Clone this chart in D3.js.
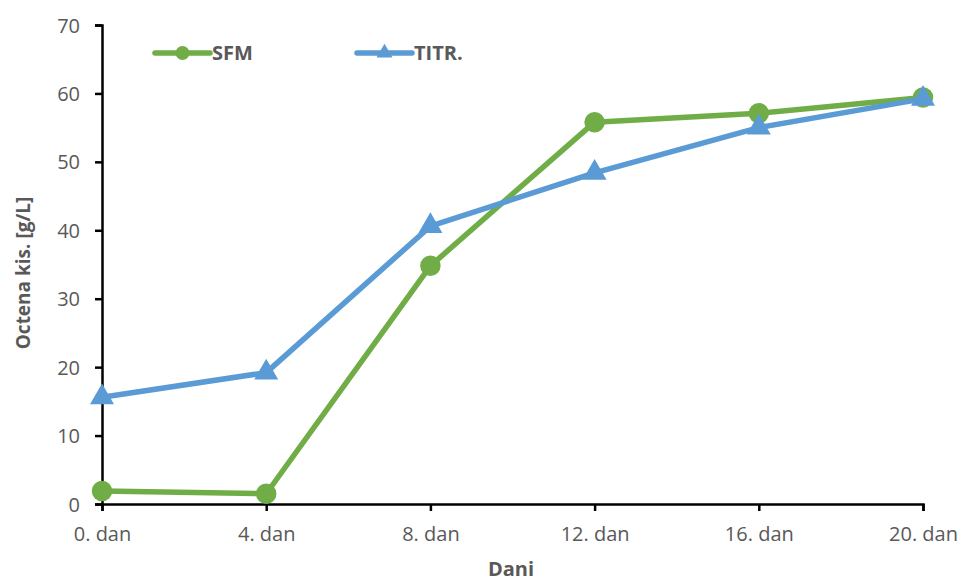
<!DOCTYPE html>
<html><head><meta charset="utf-8">
<script src="https://cdn.jsdelivr.net/npm/d3@7"></script>
<style>body{margin:0;background:#fff}svg{display:block}text{font-family:"Open Sans","Liberation Sans",sans-serif}</style>
</head><body><svg id="c" width="959" height="583"></svg>
<script>
const categories = ["0. dan","4. dan","8. dan","12. dan","16. dan","20. dan"];
const sfmValues = [1.9, 1.5, 34.8, 55.8, 57.1, 59.4];
const titrValues = [15.6, 19.2, 40.6, 48.4, 55.0, 59.2];
const seriesNames = ["SFM","TITR."];
const yTicks = [0,10,20,30,40,50,60,70];

const svg = d3.select("#c");
const m = {l:102, r:36, t:25, b:79};
const W = 959, H = 583;
const x = d3.scalePoint().domain(categories).range([m.l, W - m.r]);
const y = d3.scaleLinear().domain([0,70]).range([H - m.b, m.t]);
const grey = "#595959";

// axes
const xa = svg.append("g").attr("transform",`translate(0,${H-m.b})`)
  .call(d3.axisBottom(x).tickSize(7).tickPadding(16));
const ya = svg.append("g").attr("transform",`translate(${m.l},0)`)
  .call(d3.axisLeft(y).tickValues(yTicks).tickSize(7).tickPadding(15));
[xa,ya].forEach(a=>{
  a.select(".domain").attr("stroke","#000").attr("stroke-width",2.5);
  a.selectAll(".tick line").attr("stroke","#000").attr("stroke-width",2.5);
  a.selectAll(".tick text").attr("fill",grey).style("font-size","20px").style("font-family","'Open Sans','Liberation Sans',sans-serif");
});
ya.selectAll(".tick text").attr("dy","0.35em");

// axis titles
svg.append("text").attr("x",511).attr("y",576).attr("text-anchor","middle")
  .attr("fill",grey).style("font-size","20px").style("font-weight","bold").text("Dani");
svg.append("text").attr("transform","translate(30,273) rotate(-90)").attr("text-anchor","middle")
  .attr("fill",grey).style("font-size","19px").style("font-weight","bold").text("Octena kis. [g/L]");

const series = [
  {name:seriesNames[0], values:sfmValues, color:"#70AD47", sym:d3.symbolCircle, size:330},
  {name:seriesNames[1], values:titrValues, color:"#5B9BD5", sym:d3.symbolTriangle, size:250}
];
const line = d3.line().x((d,i)=>x(categories[i])).y(d=>y(d));
series.forEach(s=>{
  svg.append("path").datum(s.values).attr("d",line).attr("fill","none")
    .attr("stroke",s.color).attr("stroke-width",5.5).attr("stroke-linejoin","round");
  svg.selectAll(null).data(s.values).enter().append("path")
    .attr("d",d3.symbol().type(s.sym).size(s.size))
    .attr("transform",(d,i)=>`translate(${x(categories[i])},${y(d)})`)
    .attr("fill",s.color);
});

// legend
const leg = [{x0:155, tx:212},{x0:357, tx:414}];
series.forEach((s,i)=>{
  const g = svg.append("g");
  g.append("line").attr("x1",leg[i].x0).attr("x2",leg[i].x0+55).attr("y1",53).attr("y2",53)
    .attr("stroke",s.color).attr("stroke-width",5.5).attr("stroke-linecap","round");
  g.append("path").attr("d",d3.symbol().type(s.sym).size(s.sym===d3.symbolCircle?150:110))
    .attr("transform",`translate(${leg[i].x0+27.5},53)`).attr("fill",s.color);
  g.append("text").attr("x",leg[i].tx).attr("y",53).attr("dy","0.35em")
    .attr("fill",grey).style("font-size","20px").style("font-weight","bold").text(s.name);
});
</script></body></html>
